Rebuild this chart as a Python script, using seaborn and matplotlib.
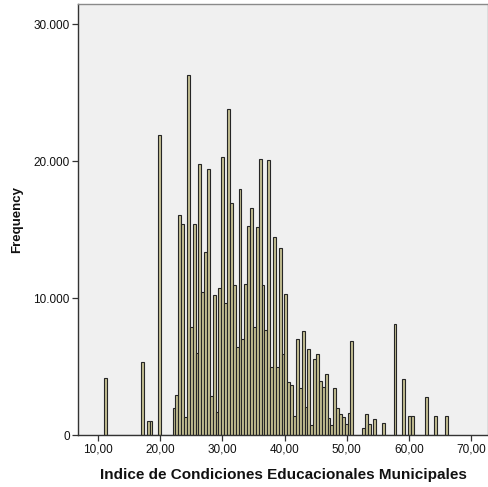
import numpy as np
import pandas as pd
import matplotlib
matplotlib.use("Agg")
import matplotlib.pyplot as plt
import seaborn as sns

# Histogram bins of the index (equal-width bins)
BIN_START = 10.88
BIN_WIDTH = 0.462
N_BINS = 120

# Occupied bins: bin number and frequency
bin_number = [
    0, 13, 15, 16, 19,
    24, 25, 26, 27, 28, 29,
    30, 31, 32, 33, 34, 35, 36, 37, 38, 39, 40, 41, 42, 43,
    44, 45, 46, 47, 48, 49, 50, 51, 52, 53, 54, 55, 56, 57,
    58, 59, 60, 61, 62, 63, 64, 65, 66, 67, 68, 69, 70, 71,
    72, 73, 74, 75, 76, 77, 78, 79, 80, 81, 82, 83, 84, 85, 86,
    90, 91, 92, 94, 97, 101, 104, 106, 107, 112, 115, 119,
]
frequency = [
    4150, 5360, 1050, 1050, 21920,
    2000, 2930, 16090, 15410, 1290, 26260,
    7920, 15410, 6020, 19800, 10440, 13340, 19390, 2850, 10240, 1710, 10730, 20290, 9630, 23770,
    16900, 10920, 6410, 17970, 7000, 11020, 15240, 16560, 7850, 15190, 20170, 10920, 7630, 20070,
    5000, 14480, 4930, 13660, 5930, 10290, 3900, 3660, 1410, 7020, 3460, 7560, 2070, 6310,
    730, 5540, 5930, 3950, 3490, 4460, 1270, 730, 3460, 1950, 1510, 1340, 800, 1590, 6830,
    490, 1510, 800, 1140, 900, 8120, 4070, 1390, 1390, 2760, 1390, 1390,
]

x_ticks = [10, 20, 30, 40, 50, 60, 70]
x_tick_labels = ["10,00", "20,00", "30,00", "40,00", "50,00", "60,00", "70,00"]
y_ticks = [0, 10000, 20000, 30000]
y_tick_labels = ["0", "10.000", "20.000", "30.000"]

edges = BIN_START + BIN_WIDTH * np.arange(N_BINS + 1)
df = pd.DataFrame({
    "icem": edges[np.array(bin_number)] + BIN_WIDTH / 2,
    "freq": frequency,
})

sns.set_theme(style="white")
plt.rcParams["font.family"] = ["Liberation Sans", "DejaVu Sans"]

fig = plt.figure(figsize=(4.89, 4.87), dpi=100)
ax = fig.add_axes([78 / 489, 1 - 435 / 487, 410 / 489, 431.5 / 487])
ax.set_facecolor("#F0F0F0")

sns.histplot(data=df, x="icem", weights="freq",
             binwidth=BIN_WIDTH, binrange=(float(edges[0]), float(edges[-1])), ax=ax,
             color="#C4BF92", edgecolor="#262626", linewidth=0.8, alpha=1.0)

ax.set_xlim(6.74, 72.75)
ax.set_ylim(0, 31500)
ax.set_xticks(x_ticks)
ax.set_xticklabels(x_tick_labels, fontsize=8.5, color="#111111")
ax.set_yticks(y_ticks)
ax.set_yticklabels(y_tick_labels, fontsize=8.5, color="#111111")
ax.tick_params(axis="both", direction="out", length=4, width=0.9, color="#333333",
               bottom=True, left=True, pad=2)

for side in ("left", "bottom"):
    ax.spines[side].set_color("#333333")
    ax.spines[side].set_linewidth(1.0)
for side in ("top", "right"):
    ax.spines[side].set_color("#8a8a8a")
    ax.spines[side].set_linewidth(1.0)

ax.set_xlabel("Indice de Condiciones Educacionales Municipales",
              fontsize=11, fontweight="bold", labelpad=9, color="#111111")
ax.set_ylabel("Frequency", fontsize=9.5, fontweight="bold", labelpad=7, color="#111111")

fig.savefig("out.png", dpi=100)
